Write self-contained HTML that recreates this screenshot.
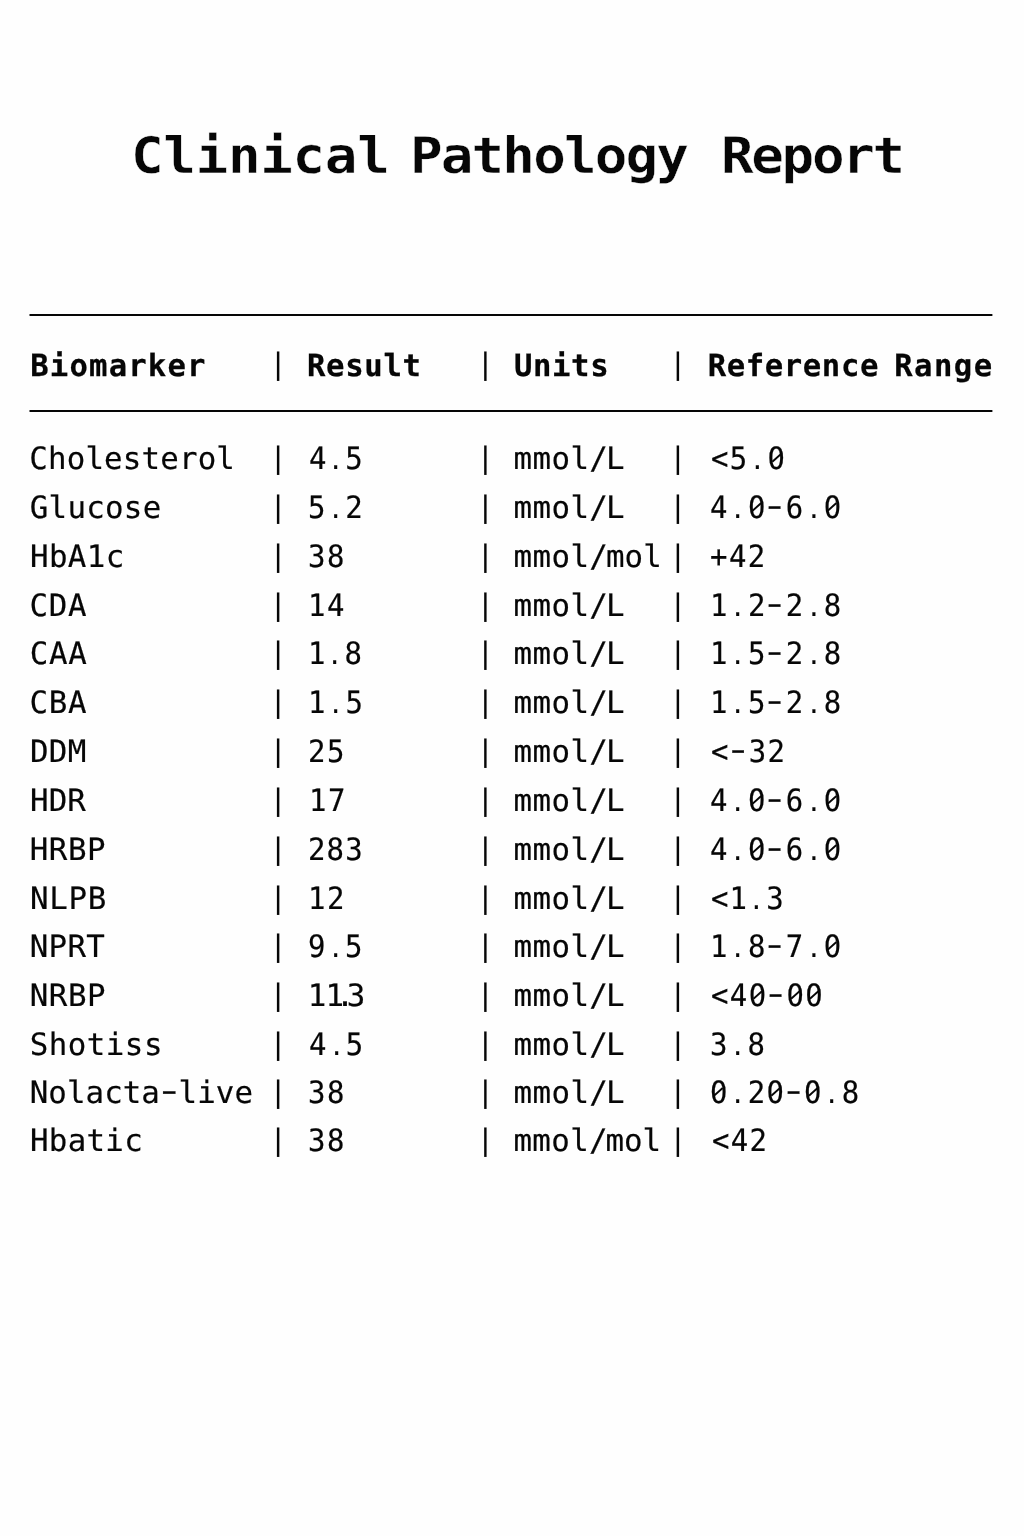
<!DOCTYPE html>
<html lang="en">
<head>
<meta charset="utf-8">
<title>Clinical Pathology Report</title>
<meta name="viewport" content="width=1024">
<style>
  html, body { margin: 0; padding: 0; }
  body { width: 1024px; height: 1536px; overflow: hidden; background: #fefefe; color: #060606;
         font-family: "DejaVu Sans Mono", "Liberation Mono", monospace;
         text-rendering: geometricPrecision; }
  .page { position: relative; width: 1024px; height: 1536px; overflow: hidden; }
  h1 { position: absolute; left: 0; top: 124px; width: 1024px; height: 64px; margin: 0;
       line-height: 64px; font-size: 50.2px; font-weight: bold;
       -webkit-text-stroke: 0.4px #fefefe; }
  h1 > span, .thead > span, .row > span { position: absolute; top: 0; white-space: pre; }
  h1 > span { transform: scaleX(1.08); transform-origin: 0 50%; }
  .rule { position: absolute; left: 29px; width: 964px; height: 2px;
          background: linear-gradient(to right, rgba(6,6,6,.5) 0, rgba(6,6,6,.5) 1px, #060606 1px, #060606 963px, rgba(6,6,6,.4) 963px); }
  .thead { position: absolute; left: 0; top: 347px; width: 1024px; height: 40px;
           line-height: 40px; font-size: 30.6px; font-weight: bold;
           -webkit-text-stroke: 0.25px #060606; }
  .tbody { font-size: 30.8px; -webkit-text-stroke: 0.2px #060606; }
  .row { position: absolute; left: 0; width: 1024px; height: 40px; line-height: 40px; }
  .sep { font-weight: normal; font-size: 29.5px; -webkit-text-stroke: 0; letter-spacing: 0;
         margin-top: -1px; }
  .thead .sep { margin-top: -3px; }
  .s1 { left: 269.13px; } .s2 { left: 476.38px; } .s3 { left: 669.03px; }
  .row .n { transform: scaleX(0.94); transform-origin: 0 50%; }
  .z { position: relative; }
  .z::before, .z::after { content: ""; position: absolute; }
  .z::before { left: 6.07px; top: 12.9px; width: 6.4px; height: 9px; border-radius: 50%; background: #fefefe; }
  .z::after { left: 3.47px; top: 16.05px; width: 11.6px; height: 2.3px; background: #060606;
              transform: rotate(-40deg); }
  .p { display: inline-block; transform: scale(0.82); transform-origin: 50% 30px; }
  .dash { display: inline-block; transform: translateY(-2px) scaleX(1.56); }
</style>
</head>
<body>
<div class="page">
<h1><span style="left:131.06px;letter-spacing:-0.3px">Clinical</span> <span style="left:410.25px;letter-spacing:-1.71px">Pathology</span> <span style="left:720.76px;letter-spacing:-2.16px">Report</span></h1>
<div class="rule" style="top:314px"></div>
<div class="thead">
  <span style="left:30.26px;letter-spacing:1.18px">Biomarker</span>
  <span class="sep s1">|</span>
  <span style="left:306.89px;letter-spacing:0.72px">Result</span>
  <span class="sep s2">|</span>
  <span style="left:514.04px;letter-spacing:0.61px">Units</span>
  <span class="sep s3">|</span>
  <span style="left:707.64px;letter-spacing:0.62px">Reference</span>
  <span style="left:894.14px;letter-spacing:1.47px">Range</span>
</div>
<div class="rule" style="top:410px"></div>
<div class="tbody">
<div class="row" style="top:439px">
  <span style="left:29.26px;letter-spacing:0.17px">Cholesterol</span>
  <span class="sep s1">|</span>
  <span class="n" style="left:308.65px;letter-spacing:0.68px">4<span class="p">.</span>5</span>
  <span class="sep s2">|</span>
  <span style="left:513.46px;letter-spacing:-0.06px"><span style="letter-spacing:0.44px">mmo</span><span style="letter-spacing:0.24px">l</span><span style="letter-spacing:-1.86px">/</span>L</span>
  <span class="sep s3">|</span>
  <span class="n" style="left:710.85px;letter-spacing:1.49px">&lt;5<span class="p">.</span><span class="z">0</span></span>
</div>
<div class="row" style="top:488px">
  <span style="left:29.82px;letter-spacing:0.27px">Glucose</span>
  <span class="sep s1">|</span>
  <span class="n" style="left:308.07px;letter-spacing:1.33px">5<span class="p">.</span>2</span>
  <span class="sep s2">|</span>
  <span style="left:513.46px;letter-spacing:-0.06px"><span style="letter-spacing:0.44px">mmo</span><span style="letter-spacing:0.24px">l</span><span style="letter-spacing:-1.86px">/</span>L</span>
  <span class="sep s3">|</span>
  <span class="n" style="left:709.95px;letter-spacing:1.6px">4<span class="p">.</span><span class="z">0</span><span class="dash">-</span>6<span class="p">.</span><span class="z">0</span></span>
</div>
<div class="row" style="top:537px">
  <span style="left:30.04px;letter-spacing:0.37px">HbA1c</span>
  <span class="sep s1">|</span>
  <span class="n" style="left:307.78px;letter-spacing:1.6px">38</span>
  <span class="sep s2">|</span>
  <span style="left:513.46px;letter-spacing:-0.02px"><span style="letter-spacing:0.48px">mmo</span><span style="letter-spacing:0.28px">l</span><span style="letter-spacing:-1.82px">/</span>mol</span>
  <span class="sep s3">|</span>
  <span class="n" style="left:710.21px;letter-spacing:1.6px">+42</span>
</div>
<div class="row" style="top:586px">
  <span style="left:29.59px;letter-spacing:0.7px">CDA</span>
  <span class="sep s1">|</span>
  <span class="n" style="left:307.9px;letter-spacing:1.6px">14</span>
  <span class="sep s2">|</span>
  <span style="left:513.46px;letter-spacing:-0.06px"><span style="letter-spacing:0.44px">mmo</span><span style="letter-spacing:0.24px">l</span><span style="letter-spacing:-1.86px">/</span>L</span>
  <span class="sep s3">|</span>
  <span class="n" style="left:709.79px;letter-spacing:1.6px">1<span class="p">.</span>2<span class="dash">-</span>2<span class="p">.</span>8</span>
</div>
<div class="row" style="top:634px">
  <span style="left:29.84px;letter-spacing:0.7px">CAA</span>
  <span class="sep s1">|</span>
  <span class="n" style="left:307.87px;letter-spacing:0.85px">1<span class="p">.</span>8</span>
  <span class="sep s2">|</span>
  <span style="left:513.46px;letter-spacing:-0.06px"><span style="letter-spacing:0.44px">mmo</span><span style="letter-spacing:0.24px">l</span><span style="letter-spacing:-1.86px">/</span>L</span>
  <span class="sep s3">|</span>
  <span class="n" style="left:709.79px;letter-spacing:1.6px">1<span class="p">.</span>5<span class="dash">-</span>2<span class="p">.</span>8</span>
</div>
<div class="row" style="top:683px">
  <span style="left:29.59px;letter-spacing:0.7px">CBA</span>
  <span class="sep s1">|</span>
  <span class="n" style="left:307.87px;letter-spacing:1.37px">1<span class="p">.</span>5</span>
  <span class="sep s2">|</span>
  <span style="left:513.46px;letter-spacing:-0.06px"><span style="letter-spacing:0.44px">mmo</span><span style="letter-spacing:0.24px">l</span><span style="letter-spacing:-1.86px">/</span>L</span>
  <span class="sep s3">|</span>
  <span class="n" style="left:709.79px;letter-spacing:1.6px">1<span class="p">.</span>5<span class="dash">-</span>2<span class="p">.</span>8</span>
</div>
<div class="row" style="top:732px">
  <span style="left:30.04px;letter-spacing:0.28px">DDM</span>
  <span class="sep s1">|</span>
  <span class="n" style="left:308.15px;letter-spacing:1.6px">25</span>
  <span class="sep s2">|</span>
  <span style="left:513.46px;letter-spacing:-0.06px"><span style="letter-spacing:0.44px">mmo</span><span style="letter-spacing:0.24px">l</span><span style="letter-spacing:-1.86px">/</span>L</span>
  <span class="sep s3">|</span>
  <span class="n" style="left:711.35px;letter-spacing:1.52px">&lt;<span class="dash">-</span>32</span>
</div>
<div class="row" style="top:781px">
  <span style="left:30.04px;letter-spacing:0.07px">HDR</span>
  <span class="sep s1">|</span>
  <span class="n" style="left:308.92px;letter-spacing:1.6px">17</span>
  <span class="sep s2">|</span>
  <span style="left:513.46px;letter-spacing:-0.06px"><span style="letter-spacing:0.44px">mmo</span><span style="letter-spacing:0.24px">l</span><span style="letter-spacing:-1.86px">/</span>L</span>
  <span class="sep s3">|</span>
  <span class="n" style="left:709.95px;letter-spacing:1.6px">4<span class="p">.</span><span class="z">0</span><span class="dash">-</span>6<span class="p">.</span><span class="z">0</span></span>
</div>
<div class="row" style="top:830px">
  <span style="left:29.79px;letter-spacing:0.52px">HRBP</span>
  <span class="sep s1">|</span>
  <span class="n" style="left:307.95px;letter-spacing:1.25px">283</span>
  <span class="sep s2">|</span>
  <span style="left:513.46px;letter-spacing:-0.06px"><span style="letter-spacing:0.44px">mmo</span><span style="letter-spacing:0.24px">l</span><span style="letter-spacing:-1.86px">/</span>L</span>
  <span class="sep s3">|</span>
  <span class="n" style="left:709.95px;letter-spacing:1.6px">4<span class="p">.</span><span class="z">0</span><span class="dash">-</span>6<span class="p">.</span><span class="z">0</span></span>
</div>
<div class="row" style="top:879px">
  <span style="left:29.92px;letter-spacing:0.7px">NLPB</span>
  <span class="sep s1">|</span>
  <span class="n" style="left:308.43px;letter-spacing:1.6px">12</span>
  <span class="sep s2">|</span>
  <span style="left:513.46px;letter-spacing:-0.06px"><span style="letter-spacing:0.44px">mmo</span><span style="letter-spacing:0.24px">l</span><span style="letter-spacing:-1.86px">/</span>L</span>
  <span class="sep s3">|</span>
  <span class="n" style="left:711.35px;letter-spacing:1.07px">&lt;1<span class="p">.</span>3</span>
</div>
<div class="row" style="top:927px">
  <span style="left:29.76px;letter-spacing:0.31px">NPRT</span>
  <span class="sep s1">|</span>
  <span class="n" style="left:308.3px;letter-spacing:1.14px">9<span class="p">.</span>5</span>
  <span class="sep s2">|</span>
  <span style="left:513.46px;letter-spacing:-0.06px"><span style="letter-spacing:0.44px">mmo</span><span style="letter-spacing:0.24px">l</span><span style="letter-spacing:-1.86px">/</span>L</span>
  <span class="sep s3">|</span>
  <span class="n" style="left:709.81px;letter-spacing:1.6px">1<span class="p">.</span>8<span class="dash">-</span>7<span class="p">.</span><span class="z">0</span></span>
</div>
<div class="row" style="top:976px">
  <span style="left:29.76px;letter-spacing:0.53px">NRBP</span>
  <span class="sep s1">|</span>
  <span style="left:307.65px;letter-spacing:-0.74px">1<span style="letter-spacing:-8.34px">1</span><span style="letter-spacing:-7.54px">.</span>3</span>
  <span class="sep s2">|</span>
  <span style="left:513.46px;letter-spacing:-0.06px"><span style="letter-spacing:0.44px">mmo</span><span style="letter-spacing:0.24px">l</span><span style="letter-spacing:-1.86px">/</span>L</span>
  <span class="sep s3">|</span>
  <span class="n" style="left:711.35px;letter-spacing:1.51px">&lt;4<span class="z">0</span><span class="dash">-</span><span class="z">0</span><span class="z">0</span></span>
</div>
<div class="row" style="top:1025px">
  <span style="left:29.76px;letter-spacing:0.48px">Shotiss</span>
  <span class="sep s1">|</span>
  <span class="n" style="left:308.65px;letter-spacing:0.95px">4<span class="p">.</span>5</span>
  <span class="sep s2">|</span>
  <span style="left:513.46px;letter-spacing:-0.06px"><span style="letter-spacing:0.44px">mmo</span><span style="letter-spacing:0.24px">l</span><span style="letter-spacing:-1.86px">/</span>L</span>
  <span class="sep s3">|</span>
  <span class="n" style="left:710.16px;letter-spacing:1.36px">3<span class="p">.</span>8</span>
</div>
<div class="row" style="top:1073px">
  <span style="left:29.76px;letter-spacing:0.06px">Nolacta<span class="dash">-</span>live</span>
  <span class="sep s1">|</span>
  <span class="n" style="left:307.78px;letter-spacing:1.6px">38</span>
  <span class="sep s2">|</span>
  <span style="left:513.46px;letter-spacing:-0.06px"><span style="letter-spacing:0.44px">mmo</span><span style="letter-spacing:0.24px">l</span><span style="letter-spacing:-1.86px">/</span>L</span>
  <span class="sep s3">|</span>
  <span class="n" style="left:710.21px;letter-spacing:1.46px"><span class="z">0</span><span class="p">.</span>2<span class="z">0</span><span class="dash">-</span><span class="z">0</span><span class="p">.</span>8</span>
</div>
<div class="row" style="top:1121px">
  <span style="left:30.04px;letter-spacing:0.28px">Hbatic</span>
  <span class="sep s1">|</span>
  <span class="n" style="left:307.78px;letter-spacing:1.6px">38</span>
  <span class="sep s2">|</span>
  <span style="left:513.46px;letter-spacing:-0.12px"><span style="letter-spacing:0.38px">mmo</span><span style="letter-spacing:0.18px">l</span><span style="letter-spacing:-1.92px">/</span>mol</span>
  <span class="sep s3">|</span>
  <span class="n" style="left:711.85px;letter-spacing:1.45px">&lt;42</span>
</div>
</div>
</div>
</body>
</html>
